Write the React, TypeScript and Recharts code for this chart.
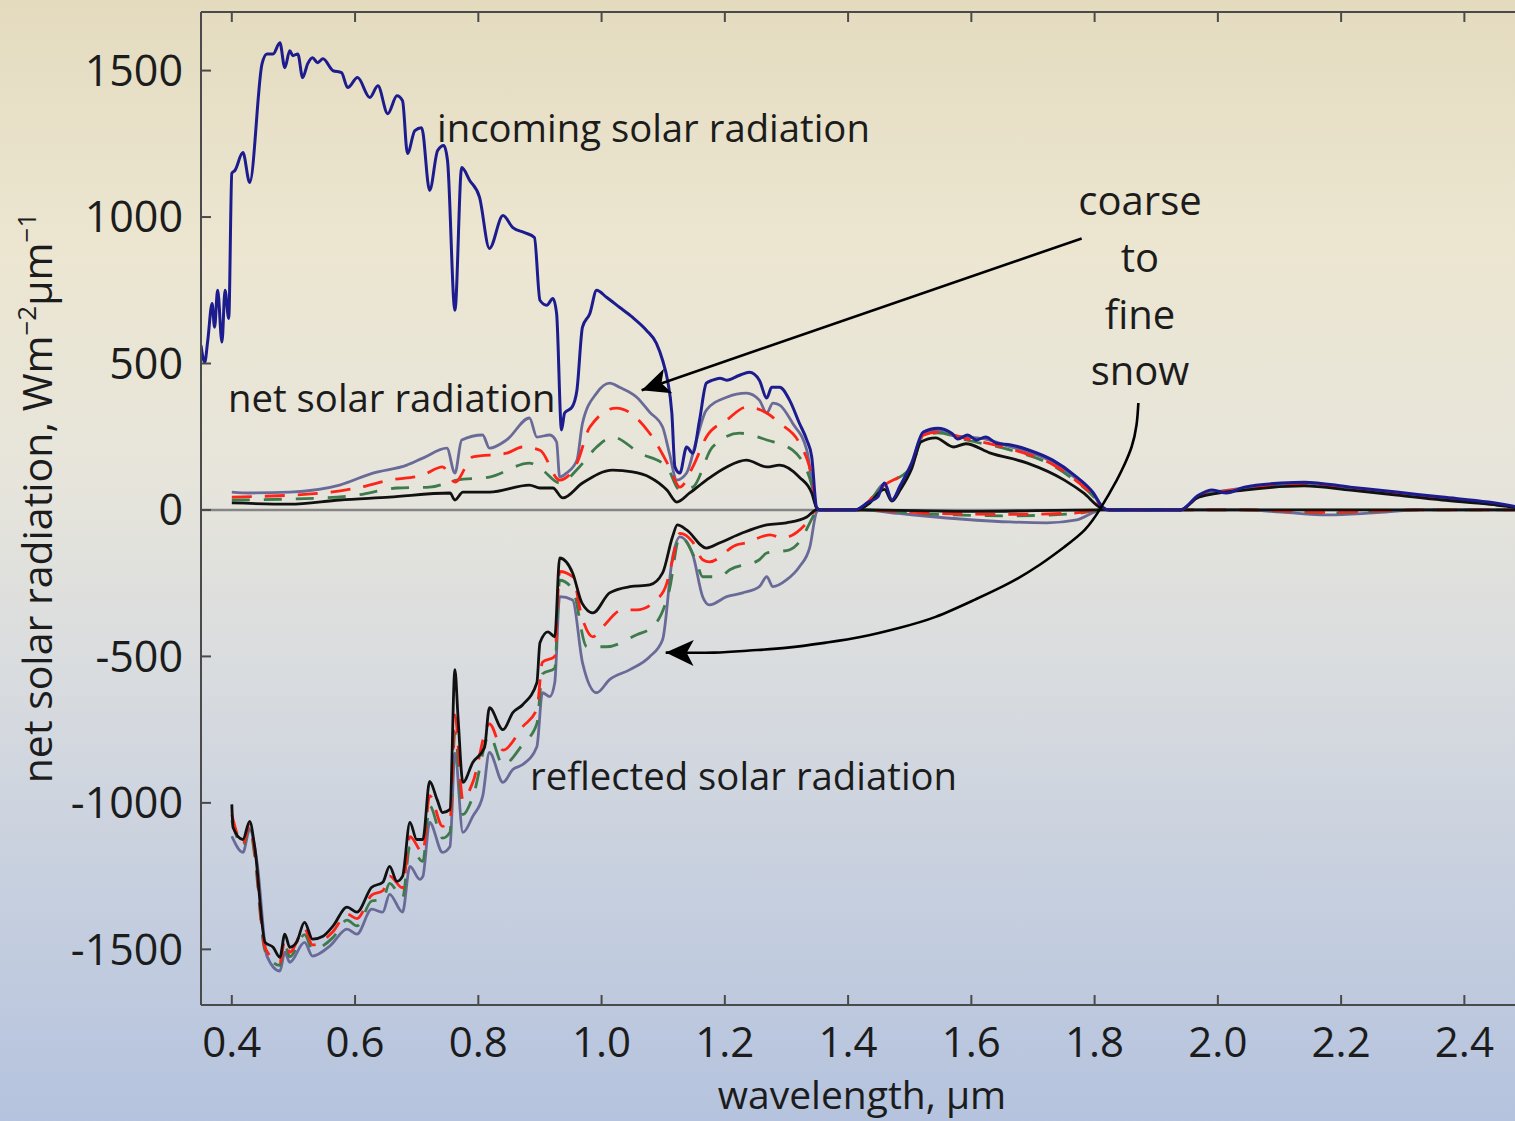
import React from "react";
import { ComposedChart, Line, XAxis, YAxis, ReferenceLine } from "recharts";

type Pt = [number, number];

const xTicks = [0.4, 0.6, 0.8, 1.0, 1.2, 1.4, 1.6, 1.8, 2.0, 2.2, 2.4];
const yTicks = [-1500, -1000, -500, 0, 500, 1000, 1500];
const Y_MIN = -1690;
const Y_MAX = 1700;

// incoming solar radiation at the surface
const incoming: Pt[] = [
  [0.35, 562], [0.356, 504], [0.361, 579], [0.368, 705], [0.372, 624], [0.377, 750], [0.384, 573],
  [0.389, 750], [0.395, 654], [0.4, 1149], [0.405, 1159], [0.418, 1220], [0.429, 1118], [0.449, 1523],
  [0.457, 1557], [0.467, 1557], [0.478, 1595], [0.486, 1510], [0.494, 1568], [0.499, 1551], [0.507, 1557],
  [0.515, 1476], [0.523, 1523], [0.531, 1544], [0.539, 1527], [0.548, 1540], [0.564, 1500], [0.578, 1493],
  [0.588, 1442], [0.604, 1476], [0.624, 1408], [0.637, 1448], [0.653, 1353], [0.668, 1414], [0.677, 1397],
  [0.685, 1217], [0.697, 1295], [0.708, 1305], [0.721, 1091], [0.734, 1227], [0.744, 1244], [0.75, 1193],
  [0.762, 682], [0.773, 1169], [0.786, 1125], [0.802, 1067], [0.818, 893], [0.84, 1005], [0.856, 964],
  [0.875, 947], [0.891, 930], [0.9, 716], [0.911, 699], [0.921, 722], [0.927, 671], [0.935, 273],
  [0.94, 331], [0.952, 351], [0.96, 409], [0.969, 624], [0.981, 671], [0.992, 750], [1.008, 726],
  [1.029, 692], [1.05, 658], [1.073, 613], [1.089, 569], [1.099, 511], [1.107, 443], [1.114, 331],
  [1.119, 147], [1.127, 126], [1.138, 215], [1.148, 194], [1.159, 307], [1.17, 433], [1.18, 443],
  [1.192, 450], [1.203, 443], [1.224, 460], [1.24, 470], [1.256, 443], [1.268, 382], [1.276, 419],
  [1.289, 419], [1.305, 375], [1.321, 296], [1.333, 239], [1.341, 181], [1.349, 7], [1.354, 0],
  [1.411, 0], [1.433, 27], [1.448, 44], [1.459, 92], [1.471, 34], [1.485, 85], [1.503, 160],
  [1.522, 266], [1.545, 279], [1.568, 262], [1.578, 242], [1.594, 256], [1.608, 239], [1.623, 249],
  [1.641, 228], [1.664, 222], [1.694, 204], [1.732, 170], [1.767, 119], [1.798, 58], [1.813, 10],
  [1.824, 0], [1.939, 0], [1.969, 51], [1.991, 68], [2.014, 58], [2.043, 78], [2.103, 92], [2.14, 95],
  [2.215, 78], [2.29, 61], [2.364, 44], [2.439, 27], [2.5, 5],
];

// net solar radiation, coarsest (slate) to finest (black)
const netSlate: Pt[] = [
  [0.4, 61], [0.429, 58], [0.494, 61], [0.575, 85], [0.629, 126], [0.684, 153], [0.71, 177], [0.749, 211],
  [0.762, 126], [0.773, 239], [0.807, 256], [0.818, 211], [0.846, 239], [0.883, 314], [0.895, 249],
  [0.916, 256], [0.927, 232], [0.932, 112], [0.943, 126], [0.96, 170], [0.969, 296], [0.992, 399],
  [1.013, 433], [1.029, 419], [1.057, 385], [1.078, 334], [1.099, 283], [1.11, 194], [1.122, 102],
  [1.138, 126], [1.154, 239], [1.17, 341], [1.203, 385], [1.235, 399], [1.256, 375], [1.268, 331],
  [1.278, 365], [1.289, 358], [1.31, 296], [1.333, 204], [1.349, 7], [1.354, 0], [1.411, 0],
  [1.433, 24], [1.459, 88], [1.471, 32], [1.485, 82], [1.503, 155], [1.522, 260], [1.545, 272],
  [1.568, 255], [1.594, 249], [1.623, 242], [1.664, 215], [1.694, 197], [1.732, 163], [1.767, 112],
  [1.798, 52], [1.813, 8], [1.824, 0], [1.939, 0], [1.969, 48], [2.043, 75], [2.14, 92], [2.215, 75],
  [2.29, 58], [2.364, 41], [2.439, 24], [2.5, 4],
];
const netRed: Pt[] = [
  [0.4, 44], [0.548, 58], [0.603, 75], [0.656, 102], [0.71, 119], [0.742, 147], [0.762, 95], [0.791, 181],
  [0.846, 194], [0.872, 215], [0.9, 204], [0.932, 102], [0.96, 160], [0.981, 283], [1.024, 348],
  [1.078, 262], [1.11, 147], [1.127, 78], [1.148, 147], [1.17, 249], [1.203, 307], [1.235, 351],
  [1.268, 331], [1.289, 296], [1.321, 228], [1.342, 102], [1.349, 7], [1.354, 0], [1.411, 0],
  [1.459, 85], [1.503, 150], [1.522, 255], [1.545, 266], [1.594, 242], [1.664, 208], [1.732, 155],
  [1.767, 105], [1.798, 48], [1.813, 6], [1.824, 0], [1.939, 0], [1.969, 46], [2.043, 72], [2.14, 90],
  [2.215, 73], [2.29, 56], [2.364, 40], [2.439, 22], [2.5, 4],
];
const netGreen: Pt[] = [
  [0.4, 34], [0.548, 41], [0.603, 51], [0.668, 75], [0.721, 78], [0.765, 102], [0.818, 112], [0.883, 160],
  [0.904, 136], [0.932, 92], [0.964, 147], [0.992, 215], [1.018, 249], [1.062, 194], [1.106, 147],
  [1.127, 68], [1.148, 78], [1.18, 215], [1.224, 262], [1.268, 239], [1.31, 204], [1.342, 78],
  [1.349, 7], [1.354, 0], [1.411, 0], [1.459, 84], [1.503, 148], [1.522, 252], [1.545, 263],
  [1.594, 238], [1.664, 204], [1.732, 152], [1.767, 102], [1.798, 46], [1.813, 6], [1.824, 0],
  [1.939, 0], [1.969, 45], [2.043, 70], [2.14, 88], [2.215, 71], [2.29, 54], [2.364, 38], [2.439, 21],
  [2.5, 4],
];
const netBlack: Pt[] = [
  [0.4, 24], [0.494, 20], [0.575, 34], [0.656, 44], [0.754, 58], [0.762, 34], [0.775, 61], [0.818, 61],
  [0.883, 85], [0.9, 75], [0.921, 75], [0.937, 41], [0.969, 92], [1.018, 136], [1.05, 130], [1.078, 112],
  [1.106, 68], [1.122, 27], [1.143, 58], [1.17, 102], [1.203, 147], [1.235, 170], [1.268, 147],
  [1.289, 153], [1.321, 112], [1.341, 58], [1.349, 7], [1.354, 0], [1.415, 0], [1.433, 20], [1.459, 70],
  [1.471, 30], [1.485, 70], [1.503, 140], [1.518, 232], [1.542, 246], [1.571, 215], [1.591, 226],
  [1.631, 194], [1.691, 160], [1.751, 102], [1.782, 58], [1.81, 7], [1.824, 0], [1.939, 0], [1.969, 44],
  [2.043, 68], [2.14, 82], [2.215, 68], [2.29, 51], [2.364, 34], [2.439, 20], [2.5, 3],
];

// reflected solar radiation (negative), same four snow types
const reflSlate: Pt[] = [
  [0.4, -1114], [0.418, -1169], [0.429, -1091], [0.441, -1203], [0.457, -1523], [0.478, -1574],
  [0.486, -1510], [0.494, -1544], [0.518, -1476], [0.531, -1523], [0.559, -1489], [0.587, -1431],
  [0.603, -1448], [0.627, -1363], [0.645, -1373], [0.656, -1312], [0.677, -1373], [0.689, -1217],
  [0.705, -1261], [0.71, -1251], [0.721, -1067], [0.742, -1169], [0.754, -1149], [0.762, -830],
  [0.775, -1101], [0.791, -1046], [0.807, -978], [0.818, -828], [0.84, -930], [0.856, -886],
  [0.872, -869], [0.895, -808], [0.904, -624], [0.916, -637], [0.924, -590], [0.932, -296],
  [0.953, -307], [0.969, -521], [0.992, -624], [1.013, -579], [1.046, -545], [1.078, -501],
  [1.099, -443], [1.115, -164], [1.127, -92], [1.148, -153], [1.164, -296], [1.175, -324],
  [1.203, -296], [1.229, -283], [1.256, -262], [1.268, -228], [1.278, -262], [1.3, -239],
  [1.321, -194], [1.338, -126], [1.349, -7], [1.354, 0], [1.422, 0], [1.482, -12], [1.542, -24],
  [1.662, -41], [1.722, -44], [1.771, -34], [1.8, -7], [1.81, 0], [2.04, 0], [2.103, -7],
  [2.178, -17], [2.252, -10], [2.327, 0], [2.5, 0],
];
const reflRed: Pt[] = [
  [0.4, -1040], [0.418, -1140], [0.429, -1075], [0.437, -1165], [0.454, -1495], [0.478, -1545],
  [0.486, -1470], [0.494, -1510], [0.518, -1430], [0.531, -1485], [0.564, -1440], [0.587, -1380],
  [0.603, -1395], [0.627, -1315], [0.645, -1300], [0.656, -1250], [0.677, -1290], [0.689, -1115],
  [0.71, -1170], [0.721, -975], [0.742, -1080], [0.754, -1065], [0.762, -700], [0.775, -990],
  [0.791, -930], [0.818, -730], [0.84, -820], [0.872, -740], [0.895, -680], [0.904, -520],
  [0.924, -500], [0.932, -210], [0.953, -228], [0.968, -365], [0.986, -433], [1.002, -399],
  [1.034, -341], [1.057, -341], [1.089, -307], [1.106, -249], [1.114, -181], [1.127, -80],
  [1.148, -110], [1.164, -170], [1.175, -177], [1.219, -119], [1.235, -112], [1.273, -85],
  [1.294, -95], [1.333, -44], [1.349, 0], [1.422, 0], [1.542, -12], [1.662, -15], [1.771, -10],
  [1.81, 0], [2.04, 0], [2.178, -8], [2.327, 0], [2.5, 0],
];
const reflGreen: Pt[] = [
  [0.4, -1060], [0.418, -1150], [0.429, -1080], [0.437, -1180], [0.454, -1505], [0.478, -1555],
  [0.486, -1485], [0.494, -1525], [0.518, -1450], [0.531, -1500], [0.564, -1460], [0.587, -1400],
  [0.603, -1420], [0.627, -1335], [0.645, -1330], [0.656, -1275], [0.677, -1325], [0.689, -1150],
  [0.71, -1200], [0.721, -1010], [0.742, -1120], [0.754, -1100], [0.762, -760], [0.775, -1040],
  [0.791, -980], [0.818, -770], [0.84, -870], [0.872, -800], [0.895, -730], [0.904, -560],
  [0.924, -540], [0.932, -240], [0.953, -270], [0.976, -467], [1.008, -467], [1.057, -426],
  [1.083, -399], [1.11, -273], [1.127, -90], [1.154, -177], [1.164, -228], [1.192, -228],
  [1.208, -204], [1.256, -170], [1.268, -147], [1.305, -136], [1.321, -109], [1.342, -27],
  [1.349, 0], [1.422, 0], [1.542, -15], [1.662, -20], [1.771, -12], [1.81, 0], [2.04, 0],
  [2.178, -10], [2.327, 0], [2.5, 0],
];
const reflBlack: Pt[] = [
  [0.4, -1005], [0.402, -1084], [0.418, -1125], [0.429, -1063], [0.437, -1148], [0.454, -1476],
  [0.467, -1493], [0.478, -1527], [0.486, -1448], [0.494, -1493], [0.505, -1476], [0.518, -1408],
  [0.531, -1465], [0.548, -1455], [0.564, -1421], [0.587, -1356], [0.603, -1373], [0.627, -1288],
  [0.645, -1271], [0.656, -1217], [0.668, -1268], [0.677, -1251], [0.689, -1067], [0.7, -1125],
  [0.71, -1125], [0.721, -927], [0.733, -988], [0.742, -1033], [0.754, -1022], [0.762, -545],
  [0.767, -705], [0.775, -930], [0.791, -862], [0.81, -811], [0.818, -675], [0.84, -750],
  [0.856, -692], [0.872, -665], [0.895, -590], [0.9, -453], [0.913, -416], [0.924, -433],
  [0.932, -164], [0.953, -215], [0.968, -317], [0.986, -351], [1.013, -283], [1.046, -262],
  [1.078, -256], [1.099, -215], [1.115, -92], [1.123, -51], [1.138, -68], [1.17, -130],
  [1.192, -112], [1.229, -78], [1.268, -51], [1.3, -44], [1.333, -24], [1.349, 0], [1.422, 0],
  [1.6, -5], [1.81, 0], [2.5, 0],
];

// annotation arrows, in wavelength / radiation units
const arrowStraight: Pt[] = [[1.065, 409], [1.779, 927]];
const arrowCurved: Pt[] = [
  [1.104, -487], [1.182, -487], [1.24, -480], [1.302, -470], [1.364, -453], [1.422, -433],
  [1.484, -402], [1.542, -365], [1.605, -307], [1.662, -249], [1.711, -187], [1.751, -126],
  [1.784, -68], [1.81, 7], [1.836, 102], [1.848, 153], [1.86, 215], [1.868, 290], [1.871, 365],
];

const rows = (pts: Pt[]) => pts.map(([x, y]) => ({ x, y }));

const FONT = "'Open Sans', 'DejaVu Sans', sans-serif";
const INK = "#1c1c1c";
const AXIS = "#4a4a4a";

const COLORS = {
  incoming: "#1c1c8e",
  slate: "#6a6a98",
  red: "#ff2418",
  green: "#3f7a4c",
  black: "#111111",
};

const annot = { fontFamily: FONT, fontSize: 38.3, fill: INK };

export default function App() {
  const series: { key: string; pts: Pt[]; color: string; dash?: string }[] = [
    { key: "reflSlate", pts: reflSlate, color: COLORS.slate },
    { key: "reflGreen", pts: reflGreen, color: COLORS.green, dash: "18 14" },
    { key: "reflRed", pts: reflRed, color: COLORS.red, dash: "20 13" },
    { key: "reflBlack", pts: reflBlack, color: COLORS.black },
    { key: "netSlate", pts: netSlate, color: COLORS.slate },
    { key: "netGreen", pts: netGreen, color: COLORS.green, dash: "18 14" },
    { key: "netRed", pts: netRed, color: COLORS.red, dash: "20 13" },
    { key: "netBlack", pts: netBlack, color: COLORS.black },
  ];

  return (
    <div
      style={{
        position: "fixed",
        left: 0,
        top: 0,
        width: 1515,
        height: 1121,
        overflow: "hidden",
        background:
          "linear-gradient(to bottom, #e4dbbf 0%, #ece6d1 22%, #e7e5db 42%, #d9dcdf 60%, #c6cfdf 80%, #b5c3de 100%)",
      }}
    >
      <svg width={0} height={0} style={{ position: "absolute" }}>
        <defs>
          <marker
            id="arrowHead"
            markerUnits="userSpaceOnUse"
            markerWidth={32}
            markerHeight={32}
            viewBox="0 0 32 32"
            refX={30}
            refY={16}
            orient="auto-start-reverse"
          >
            <path d="M2,3 L30,16 L2,29 L9,16 Z" fill="#000" />
          </marker>
        </defs>
      </svg>
      <ComposedChart
        width={1531}
        height={1121}
        margin={{ top: 12, right: 5, bottom: 16, left: 81 }}
      >
        <XAxis
          type="number"
          dataKey="x"
          domain={[0.35, 2.5]}
          ticks={xTicks}
          height={100}
          tickSize={-10}
          tickMargin={32}
          tickFormatter={(v: number) => v.toFixed(1)}
          tick={{ fontFamily: FONT, fontSize: 42, fill: INK }}
          axisLine={{ stroke: AXIS, strokeWidth: 2 }}
          tickLine={{ stroke: AXIS, strokeWidth: 2 }}
          allowDataOverflow
        />
        <YAxis
          type="number"
          domain={[Y_MIN, Y_MAX]}
          ticks={yTicks}
          width={120}
          tickSize={-10}
          tickMargin={28}
          tick={{ fontFamily: FONT, fontSize: 43, fill: INK }}
          axisLine={{ stroke: AXIS, strokeWidth: 2 }}
          tickLine={{ stroke: AXIS, strokeWidth: 2 }}
          allowDataOverflow
        />
        {/* top frame with inward ticks */}
        <ReferenceLine y={Y_MAX} stroke={AXIS} strokeWidth={2} />
        {xTicks.map((t) => (
          <ReferenceLine
            key={`tt${t}`}
            segment={[{ x: t, y: Y_MAX }, { x: t, y: Y_MAX - 34 }]}
            stroke={AXIS}
            strokeWidth={2}
          />
        ))}
        <ReferenceLine y={0} stroke="#858585" strokeWidth={2.5} />

        {series.map((s) => (
          <Line
            key={s.key}
            data={rows(s.pts)}
            dataKey="y"
            type="monotone"
            stroke={s.color}
            strokeWidth={2.8}
            strokeDasharray={s.dash}
            dot={false}
            activeDot={false}
            isAnimationActive={false}
          />
        ))}
        <Line
          data={rows(incoming)}
          dataKey="y"
          type="monotone"
          stroke={COLORS.incoming}
          strokeWidth={3}
          dot={false}
          activeDot={false}
          isAnimationActive={false}
        />
        <Line
          data={rows(arrowStraight)}
          dataKey="y"
          type="linear"
          stroke="#000"
          strokeWidth={2.6}
          markerStart="url(#arrowHead)"
          dot={false}
          activeDot={false}
          isAnimationActive={false}
        />
        <Line
          data={rows(arrowCurved)}
          dataKey="y"
          type="natural"
          stroke="#000"
          strokeWidth={2.6}
          markerStart="url(#arrowHead)"
          dot={false}
          activeDot={false}
          isAnimationActive={false}
        />

        <text x={437} y={142} {...annot}>incoming solar radiation</text>
        <text x={228} y={412} {...annot}>net solar radiation</text>
        <text x={530} y={790} {...annot}>reflected solar radiation</text>
        <text x={1140} y={215} textAnchor="middle" {...annot} fontSize={40}>coarse</text>
        <text x={1140} y={272} textAnchor="middle" {...annot} fontSize={40}>to</text>
        <text x={1140} y={329} textAnchor="middle" {...annot} fontSize={40}>fine</text>
        <text x={1140} y={385} textAnchor="middle" {...annot} fontSize={40}>snow</text>

        <text
          transform="translate(52, 498) rotate(-90)"
          textAnchor="middle"
          fontFamily={FONT}
          fontSize={41}
          fill={INK}
        >
          net solar radiation, Wm
          <tspan fontSize={26} dy={-16}>−2</tspan>
          <tspan dy={16}>μm</tspan>
          <tspan fontSize={26} dy={-16}>−1</tspan>
        </text>
        <text x={862} y={1109} textAnchor="middle" fontFamily={FONT} fontSize={39} fill={INK}>
          wavelength, μm
        </text>
      </ComposedChart>
    </div>
  );
}
